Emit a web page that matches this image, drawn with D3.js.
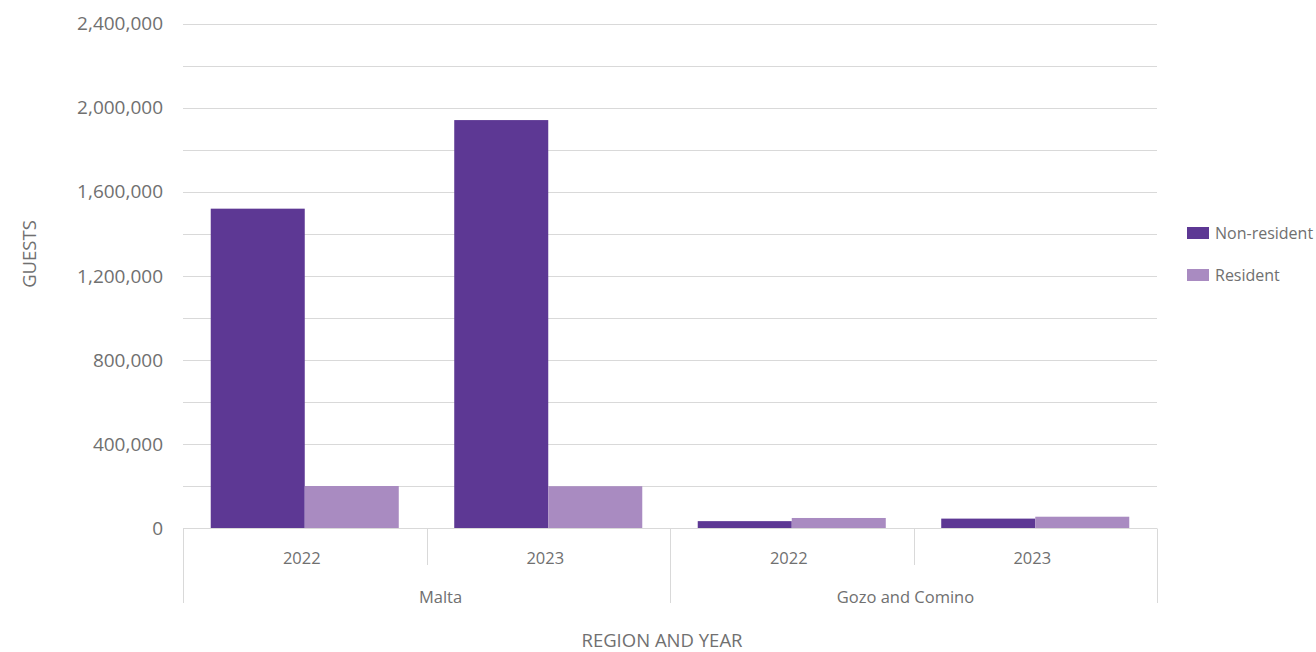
<!DOCTYPE html>
<html><head><meta charset="utf-8">
<script src="https://cdn.jsdelivr.net/npm/d3@7"></script>
<style>body{margin:0;background:#fff}svg{display:block}text{font-family:"Open Sans",sans-serif;fill:#707070}</style>
</head><body><svg id="c" width="1316" height="652"></svg>
<script>
const regions = ["Malta", "Gozo and Comino"];
const years = ["2022", "2023"];
const series = ["Non-resident", "Resident"];
const colors = ["#5d3894", "#a98bc1"];
const nonResident = [1520000, 1941000, 35000, 47000];
const resident = [202000, 201000, 50000, 56000];
const yTicks = [0, 400000, 800000, 1200000, 1600000, 2000000, 2400000];

const svg = d3.select("#c");
const L = 183, R = 1157, T = 23.5, B = 528.5;
const cats = [];
regions.forEach(r => years.forEach(y => cats.push(r + "|" + y)));
const x = d3.scaleBand().domain(cats).range([L, R]).paddingInner(0).paddingOuter(0);
const xs = d3.scaleBand().domain(series).range([0, x.bandwidth()]).paddingInner(0).paddingOuter(0.295);
const y = d3.scaleLinear().domain([0, 2400000]).range([B, T]);

// gridlines every 200k
const grid = d3.range(200000, 2400001, 200000);
svg.append("g").selectAll("line").data(grid).join("line")
  .attr("x1", L).attr("x2", R).attr("y1", d => Math.round(y(d)) + 0.5).attr("y2", d => Math.round(y(d)) + 0.5)
  .attr("stroke", "#d9d9d9").attr("stroke-width", 1);

// y axis labels
const yAxis = d3.axisLeft(y).tickValues(yTicks).tickFormat(d3.format(",")).tickSize(0).tickPadding(20);
const ya = svg.append("g").attr("transform", `translate(${L},0)`).call(yAxis);
ya.select(".domain").remove();
ya.selectAll("text").attr("font-size", 19).attr("fill", "#707070").attr("font-family", "'Open Sans',sans-serif").attr("dy", "0.32em");

// bars
const data = cats.map((c, i) => ({c, vals: [nonResident[i], resident[i]]}));
const g = svg.append("g");
data.forEach(d => {
  series.forEach((s, j) => {
    g.append("rect")
      .attr("x", x(d.c) + xs(s)).attr("width", xs.bandwidth())
      .attr("y", y(d.vals[j])).attr("height", B - y(d.vals[j]))
      .attr("fill", colors[j]);
  });
});

// baseline
svg.append("line").attr("x1", L).attr("x2", R).attr("y1", B).attr("y2", B).attr("stroke", "#d9d9d9");

// category separators
const sep = svg.append("g").attr("stroke", "#d9d9d9");
cats.forEach((c, i) => {
  const xx = Math.round(x(c)) + 0.5;
  const isRegionEdge = i % years.length === 0;
  sep.append("line").attr("x1", xx).attr("x2", xx).attr("y1", B).attr("y2", isRegionEdge ? 603 : 565);
});
sep.append("line").attr("x1", R + 0.5).attr("x2", R + 0.5).attr("y1", B).attr("y2", 603);

// year labels
svg.append("g").selectAll("text").data(cats).join("text")
  .attr("x", d => x(d) + x.bandwidth() / 2 - 3).attr("y", 564).attr("text-anchor", "middle")
  .attr("font-size", 16.5).text(d => d.split("|")[1]);

// region labels
const regionShift = [14, -8];
regions.forEach((r, i) => {
  const x0 = x(r + "|" + years[0]);
  const x1 = x(r + "|" + years[years.length - 1]) + x.bandwidth();
  svg.append("text").attr("x", (x0 + x1) / 2 + regionShift[i]).attr("y", 603).attr("text-anchor", "middle")
    .attr("font-size", 16.5).text(r);
});

// axis titles
svg.append("text").attr("x", (L + R) / 2 - 8).attr("y", 647).attr("text-anchor", "middle")
  .attr("font-size", 18.5).text("REGION AND YEAR");
svg.append("text").attr("transform", "translate(36,254) rotate(-90)").attr("text-anchor", "middle")
  .attr("font-size", 18.5).text("GUESTS");

// legend
series.forEach((s, j) => {
  const ly = 233 + j * 42;
  svg.append("rect").attr("x", 1187).attr("y", ly - 6).attr("width", 22).attr("height", 12).attr("fill", colors[j]);
  svg.append("text").attr("x", 1215).attr("y", ly).attr("dy", "0.35em").attr("font-size", 16).text(s);
});
</script></body></html>
